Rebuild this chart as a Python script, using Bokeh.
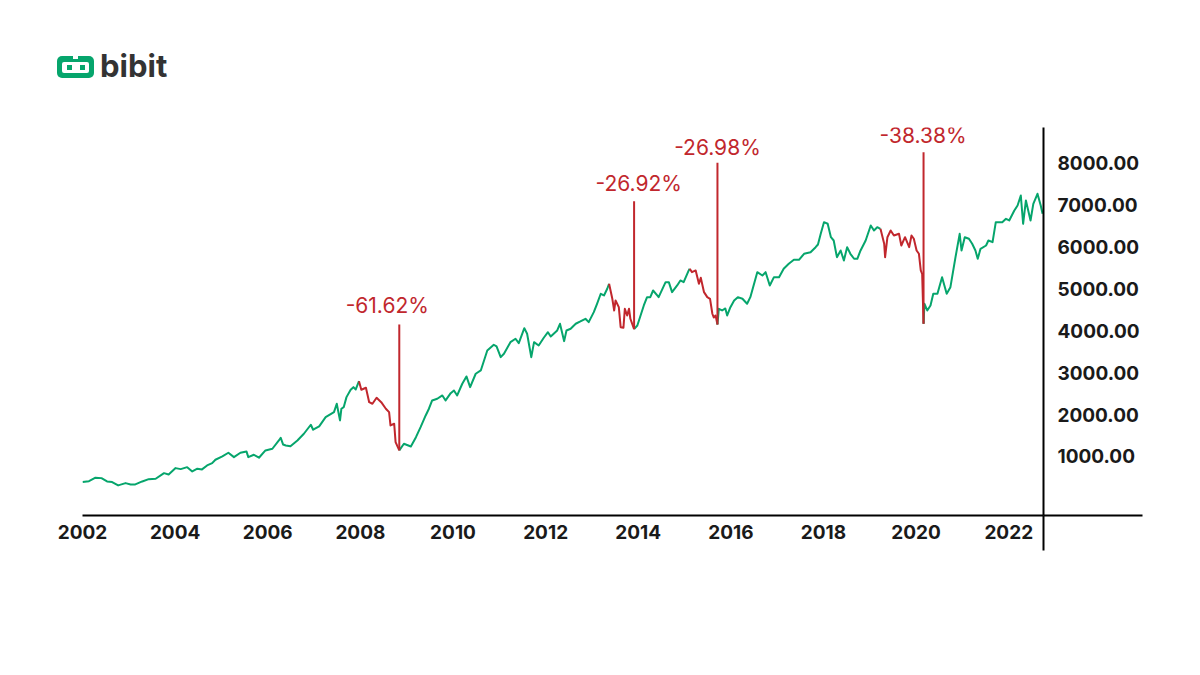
from bokeh.plotting import figure
from bokeh.models import (Range1d, LinearAxis, FixedTicker, ColumnDataSource,
                          LabelSet, Div)
from bokeh.layouts import column
from bokeh.core.properties import value
from bokeh.embed import file_html
from bokeh.resources import INLINE

# ---------------- data ----------------
years = [2002.00, 2002.14, 2002.28, 2002.41, 2002.53, 2002.64, 2002.77, 2002.93, 2003.04, 2003.14,
         2003.29, 2003.43, 2003.58, 2003.76, 2003.86, 2004.01, 2004.12, 2004.26, 2004.37, 2004.48,
         2004.58, 2004.69, 2004.80, 2004.87, 2005.02, 2005.15, 2005.27, 2005.41, 2005.54, 2005.58,
         2005.70, 2005.81, 2005.95, 2006.10, 2006.24, 2006.28, 2006.33, 2006.39, 2006.49, 2006.64,
         2006.78, 2006.93, 2006.98, 2007.11, 2007.25, 2007.43, 2007.49, 2007.56, 2007.59, 2007.64,
         2007.70, 2007.79, 2007.85, 2007.90, 2007.97, 2008.02, 2008.12, 2008.19, 2008.26, 2008.35,
         2008.45, 2008.55, 2008.62, 2008.65, 2008.73, 2008.76, 2008.84, 2008.94, 2009.09, 2009.20,
         2009.30, 2009.41, 2009.48, 2009.55, 2009.66, 2009.77, 2009.84, 2009.95, 2010.02, 2010.09,
         2010.20, 2010.29, 2010.37, 2010.49, 2010.60, 2010.74, 2010.88, 2010.94, 2011.03, 2011.10,
         2011.24, 2011.35, 2011.42, 2011.54, 2011.60, 2011.69, 2011.75, 2011.85, 2011.96, 2012.05,
         2012.11, 2012.25, 2012.31, 2012.40, 2012.45, 2012.54, 2012.65, 2012.75, 2012.86, 2012.93,
         2013.04, 2013.11, 2013.19, 2013.26, 2013.33, 2013.37, 2013.44, 2013.48, 2013.51, 2013.58,
         2013.62, 2013.68, 2013.71, 2013.76, 2013.80, 2013.83, 2013.91, 2013.98, 2014.05, 2014.12,
         2014.19, 2014.26, 2014.32, 2014.41, 2014.44, 2014.59, 2014.66, 2014.73, 2014.84, 2014.91,
         2014.98, 2015.09, 2015.11, 2015.16, 2015.24, 2015.31, 2015.35, 2015.42, 2015.49, 2015.55,
         2015.60, 2015.63, 2015.67, 2015.71, 2015.74, 2015.81, 2015.88, 2015.92, 2015.99, 2016.07,
         2016.15, 2016.25, 2016.35, 2016.42, 2016.51, 2016.57, 2016.68, 2016.75, 2016.84, 2016.93,
         2017.04, 2017.14, 2017.25, 2017.36, 2017.47, 2017.58, 2017.72, 2017.83, 2017.88, 2017.94,
         2018.01, 2018.09, 2018.16, 2018.22, 2018.29, 2018.37, 2018.44, 2018.51, 2018.58, 2018.66,
         2018.73, 2018.80, 2018.91, 2019.02, 2019.09, 2019.16, 2019.23, 2019.31, 2019.33, 2019.38,
         2019.45, 2019.52, 2019.63, 2019.68, 2019.76, 2019.85, 2019.90, 2019.95, 2020.01, 2020.06,
         2020.10, 2020.13, 2020.16, 2020.18, 2020.24, 2020.31, 2020.37, 2020.46, 2020.56, 2020.66,
         2020.74, 2020.85, 2020.94, 2020.98, 2021.05, 2021.14, 2021.21, 2021.28, 2021.33, 2021.39,
         2021.51, 2021.56, 2021.65, 2021.72, 2021.86, 2021.94, 2022.01, 2022.12, 2022.19, 2022.26,
         2022.31, 2022.37, 2022.47, 2022.53, 2022.62, 2022.69, 2022.73]

values = [387, 410, 492, 482, 403, 387, 308, 363, 332, 332,
          403, 458, 468, 601, 570, 721, 697, 744, 642, 706,
          690, 785, 840, 921, 1000, 1088, 983, 1088, 1119, 983,
          1040, 969, 1143, 1183, 1381, 1446, 1286, 1262, 1245, 1381,
          1541, 1756, 1637, 1716, 1937, 2057, 2257, 1859, 2138, 2176,
          2415, 2591, 2653, 2598, 2796, 2591, 2639, 2295, 2257, 2400,
          2295, 2138, 2057, 1739, 1780, 1341, 1143, 1303, 1238, 1460,
          1699, 1978, 2138, 2336, 2376, 2455, 2336, 2510, 2574, 2455,
          2734, 2909, 2653, 2973, 3052, 3529, 3665, 3624, 3369, 3450,
          3727, 3808, 3703, 4061, 3927, 3369, 3727, 3648, 3832, 3965,
          3863, 4006, 4166, 3751, 4006, 4047, 4166, 4221, 4285, 4204,
          4443, 4643, 4882, 4841, 5001, 5120, 4762, 4483, 4722, 4562,
          4085, 4070, 4524, 4364, 4524, 4285, 4037, 4125, 4364, 4603,
          4801, 4801, 4960, 4841, 4801, 5159, 5159, 4920, 5080, 5199,
          5159, 5438, 5478, 5397, 5438, 5120, 5264, 4920, 4801, 4762,
          4405, 4316, 4364, 4149, 4524, 4483, 4531, 4364, 4562, 4722,
          4801, 4762, 4643, 4801, 5159, 5397, 5318, 5397, 5080, 5278,
          5278, 5478, 5597, 5693, 5693, 5836, 5874, 5994, 6058, 6313,
          6590, 6552, 6232, 6153, 5755, 5915, 5676, 5994, 5836, 5717,
          5717, 5915, 6153, 6511, 6392, 6471, 6433, 6075, 5755, 6232,
          6392, 6273, 6313, 6034, 6232, 5994, 6273, 6194, 5915, 5836,
          5438, 5359, 4166, 4643, 4483, 4603, 4882, 4882, 5278, 4882,
          5039, 5755, 6313, 5915, 6232, 6194, 6075, 5915, 5717, 5955,
          6034, 6153, 6113, 6590, 6590, 6671, 6631, 6869, 6989, 7227,
          6552, 7108, 6631, 7029, 7268, 6989, 6790]

# drawdown periods (peak -> trough) and their labels
dd_start = [2007.97, 2013.37, 2015.11, 2019.23]
dd_end = [2008.84, 2013.91, 2015.71, 2020.16]
dd_pct = [-61.62, -26.92, -26.98, -38.38]
ann_top = [4149, 7091, 8007, 8260]
label_x = [2008.58, 2014.01, 2015.71, 2020.15]
label_y = [4603, 7514, 8372, 8665]

x_ticks = [2002, 2004, 2006, 2008, 2010, 2012, 2014, 2016, 2018, 2020, 2022]
x_labels = ["2002", "2004", "2006", "2008", "2010", "2012", "2014", "2016", "2018", "2020", "2022"]
y_ticks = [1000, 2000, 3000, 4000, 5000, 6000, 7000, 8000]
y_labels = ["1000.00", "2000.00", "3000.00", "4000.00", "5000.00", "6000.00", "7000.00", "8000.00"]

X_START, X_END = 2002.0, 2022.75
Y_START, Y_END = -410, 8850

GREEN = "#06a56c"
RED = "#c1272d"
INK = "#1a1a1a"
FONT = "Inter"

# ---------------- build coloured runs ----------------
def in_drawdown(a, b):
    return any(s <= a and b <= e for s, e in zip(dd_start, dd_end))

xs, ys, cs = [], [], []
cur_x, cur_y, cur_c = [years[0]], [values[0]], None
for i in range(len(years) - 1):
    c = RED if in_drawdown(years[i], years[i + 1]) else GREEN
    if cur_c is None:
        cur_c = c
    if c != cur_c:
        xs.append(cur_x); ys.append(cur_y); cs.append(cur_c)
        cur_x, cur_y, cur_c = [years[i]], [values[i]], c
    cur_x.append(years[i + 1]); cur_y.append(values[i + 1])
xs.append(cur_x); ys.append(cur_y); cs.append(cur_c)

# ---------------- logo (header) ----------------
logo_html = f"""
<div style="position:relative;width:1200px;height:100px;">
  <div style="position:absolute;left:57px;top:56px;width:37px;height:22px;background:{GREEN};border-radius:5px;"></div>
  <div style="position:absolute;left:62px;top:62px;width:27px;height:11px;background:#ffffff;border-radius:2px;"></div>
  <div style="position:absolute;left:73px;top:56px;width:5px;height:3px;background:#ffffff;"></div>
  <div style="position:absolute;left:67px;top:65px;width:5px;height:5px;background:{GREEN};"></div>
  <div style="position:absolute;left:80px;top:65px;width:5px;height:5px;background:{GREEN};"></div>
  <div style="position:absolute;left:100px;top:50px;font-family:Inter;font-weight:700;font-size:31px;line-height:31px;color:#333333;">bibit</div>
</div>
"""
logo = Div(text=logo_html, width=1200, height=100, margin=(0, 0, 0, 0))

# ---------------- figure ----------------
p = figure(width=1200, height=575,
           x_range=Range1d(X_START, X_END), y_range=Range1d(Y_START, Y_END),
           x_axis_location=None, y_axis_location=None,
           toolbar_location=None, output_backend="svg",
           min_border_left=82, min_border_right=157,
           min_border_top=27, min_border_bottom=160)
p.margin = (0, 0, 0, 0)
p.outline_line_color = None
p.grid.visible = False
p.background_fill_color = "white"
p.border_fill_color = "white"

line_src = ColumnDataSource(dict(xs=xs, ys=ys, color=cs))
p.multi_line(xs="xs", ys="ys", line_color="color", line_width=2,
             line_join="round", source=line_src)

# annotation lines from trough up
ann_bottom = [values[years.index(e)] for e in dd_end]
ann_src = ColumnDataSource(dict(x=dd_end, y0=ann_bottom, y1=ann_top))
p.segment(x0="x", y0="y0", x1="x", y1="y1", line_color=RED, line_width=2, source=ann_src)

lab_src = ColumnDataSource(dict(x=label_x, y=label_y,
                                text=[f"{v:.2f}%" for v in dd_pct]))
p.add_layout(LabelSet(x="x", y="y", text="text", source=lab_src,
                      text_align="center", text_baseline="middle",
                      text_font=value(FONT), text_font_size=value("21px"),
                      text_color=RED))

# ---------------- axes ----------------
xaxis = LinearAxis(ticker=FixedTicker(ticks=x_ticks, minor_ticks=[X_END]),
                   major_label_overrides={t: l for t, l in zip(x_ticks, x_labels)})
xaxis.axis_line_color = "black"
xaxis.axis_line_width = 2
xaxis.major_tick_line_color = None
xaxis.major_tick_out = 0
xaxis.major_tick_in = 0
xaxis.minor_tick_line_color = "black"
xaxis.minor_tick_line_width = 2
xaxis.minor_tick_in = 0
xaxis.minor_tick_out = 35
xaxis.major_label_standoff = -26
xaxis.major_label_text_font = FONT
xaxis.major_label_text_font_style = "bold"
xaxis.major_label_text_font_size = "19px"
xaxis.major_label_text_color = INK
p.add_layout(xaxis, "below")

yaxis = LinearAxis(ticker=FixedTicker(ticks=y_ticks, minor_ticks=[Y_START]),
                   major_label_overrides={t: l for t, l in zip(y_ticks, y_labels)})
yaxis.axis_line_color = "black"
yaxis.axis_line_width = 2
yaxis.major_tick_line_color = None
yaxis.major_tick_out = 0
yaxis.major_tick_in = 0
yaxis.minor_tick_line_color = "black"
yaxis.minor_tick_line_width = 2
yaxis.minor_tick_in = 0
yaxis.minor_tick_out = 99
yaxis.major_label_standoff = -85
yaxis.major_label_text_font = FONT
yaxis.major_label_text_font_style = "bold"
yaxis.major_label_text_font_size = "19px"
yaxis.major_label_text_color = INK
p.add_layout(yaxis, "right")

layout = column(logo, p, spacing=0)
open("out.html", "w").write(file_html(layout, INLINE))
